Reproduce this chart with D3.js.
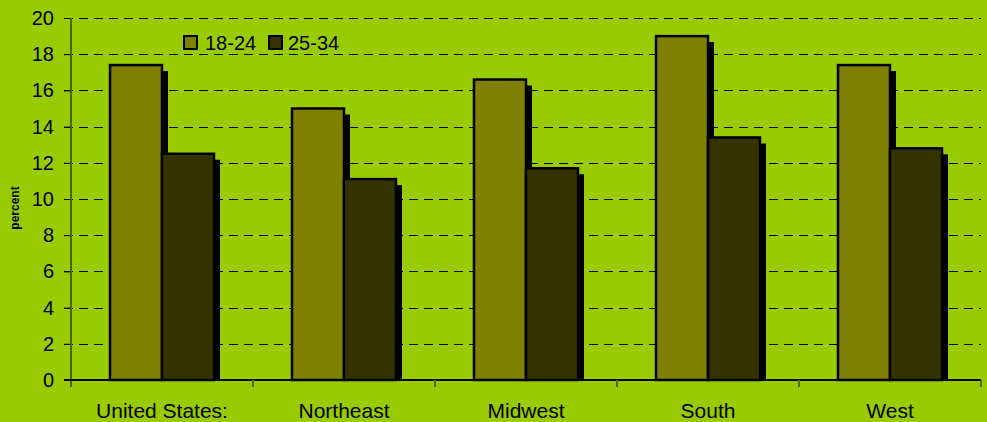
<!DOCTYPE html>
<html>
<head>
<meta charset="utf-8">
<script src="https://cdn.jsdelivr.net/npm/d3@7"></script>
<style>
  html, body { margin: 0; padding: 0; background: #99CC00; }
  svg { display: block; }
  text { font-family: "Liberation Sans", Arial, sans-serif; fill: #000; }
</style>
</head>
<body>
<svg id="chart" width="987" height="422"></svg>
<script>
const categories = ["United States:", "Northeast", "Midwest", "South", "West"];
const seriesNames = ["18-24", "25-34"];
const values1824 = [17.4, 15.0, 16.6, 19.0, 17.4];
const values2534 = [12.5, 11.1, 11.7, 13.4, 12.8];
const yTicks = [0, 2, 4, 6, 8, 10, 12, 14, 16, 18, 20];
const colors = ["#808000", "#333300"];

const svg = d3.select("#chart");
const plotLeft = 71, plotRight = 981, plotTop = 18, plotBottom = 380;

const x = d3.scaleBand().domain(categories).range([plotLeft, plotRight]).padding(0);
const inner = d3.scaleBand().domain(seriesNames).range([39, 143]).padding(0);
const y = d3.scaleLinear().domain([0, 20]).range([plotBottom, plotTop]);

// gridlines
svg.append("g").selectAll("line").data(yTicks.filter(d => d > 0)).join("line")
  .attr("x1", plotLeft - 7).attr("x2", plotRight)
  .attr("y1", d => Math.round(y(d)) + 0.5).attr("y2", d => Math.round(y(d)) + 0.5)
  .attr("stroke", "#000").attr("stroke-width", 1).attr("stroke-dasharray", "9,6");

// y axis
const yAxis = svg.append("g").attr("transform", `translate(${plotLeft},0)`)
  .call(d3.axisLeft(y).tickValues(yTicks).tickSize(7).tickPadding(10).tickFormat(d3.format("d")));
yAxis.select(".domain").remove();
yAxis.selectAll(".tick line").attr("stroke", "#000");
yAxis.selectAll(".tick text").style("font-size", "20px").attr("font-family", "Liberation Sans, Arial, sans-serif");

// bars
const rows = categories.map((c, i) => ({ cat: c, vals: [values1824[i], values2534[i]] }));
const groups = svg.append("g").selectAll("g").data(rows).join("g")
  .attr("transform", d => `translate(${x(d.cat)},0)`);

// shadows
groups.selectAll("rect.shadow").data(d => d.vals.map((v, j) => ({ s: seriesNames[j], v }))).join("rect")
  .attr("class", "shadow")
  .attr("x", d => inner(d.s) + 6)
  .attr("y", d => y(d.v) + 6)
  .attr("width", inner.bandwidth())
  .attr("height", d => y(0) - y(d.v) - 6)
  .attr("fill", "#000");

groups.selectAll("rect.bar").data(d => d.vals.map((v, j) => ({ s: seriesNames[j], v, j }))).join("rect")
  .attr("class", "bar")
  .attr("x", d => inner(d.s))
  .attr("y", d => y(d.v))
  .attr("width", inner.bandwidth())
  .attr("height", d => y(0) - y(d.v))
  .attr("fill", d => colors[d.j])
  .attr("stroke", "#000").attr("stroke-width", 2.5);

// y axis line
svg.append("line").attr("x1", plotLeft).attr("x2", plotLeft).attr("y1", plotTop).attr("y2", plotBottom + 7)
  .attr("stroke", "#4c6600").attr("stroke-width", 2);

// x axis line
svg.append("line").attr("x1", plotLeft - 7).attr("x2", plotRight).attr("y1", plotBottom).attr("y2", plotBottom)
  .attr("stroke", "#000").attr("stroke-width", 2);

// category boundary ticks
const bounds = categories.map(c => x(c)).concat([x.range()[1]]).slice(1);
svg.append("g").selectAll("line").data(bounds).join("line")
  .attr("x1", d => d).attr("x2", d => d).attr("y1", plotBottom).attr("y2", plotBottom + 7)
  .attr("stroke", "#4c6600").attr("stroke-width", 2);

// x labels
const xAxis = svg.append("g").attr("transform", `translate(0,${plotBottom})`)
  .call(d3.axisBottom(x).tickSize(0).tickPadding(23));
xAxis.select(".domain").remove();
xAxis.selectAll(".tick text").style("font-size", "21px").attr("font-family", "Liberation Sans, Arial, sans-serif");

// y title
svg.append("text").attr("transform", "translate(19,208) rotate(-90)")
  .attr("text-anchor", "middle").style("font-size", "12px").style("font-weight", "bold")
  .text("percent");

// legend
const legendPos = [{ rx: 184, tx: 205 }, { rx: 269, tx: 288 }];
const lg = svg.append("g").selectAll("g").data(seriesNames).join("g");
lg.append("rect").attr("x", (d, i) => legendPos[i].rx).attr("y", 36).attr("width", 13).attr("height", 13)
  .attr("fill", (d, i) => colors[i]).attr("stroke", "#000").attr("stroke-width", 2);
lg.append("text").attr("x", (d, i) => legendPos[i].tx).attr("y", 49.5)
  .style("font-size", "20px").text(d => d);
</script>
</body>
</html>
